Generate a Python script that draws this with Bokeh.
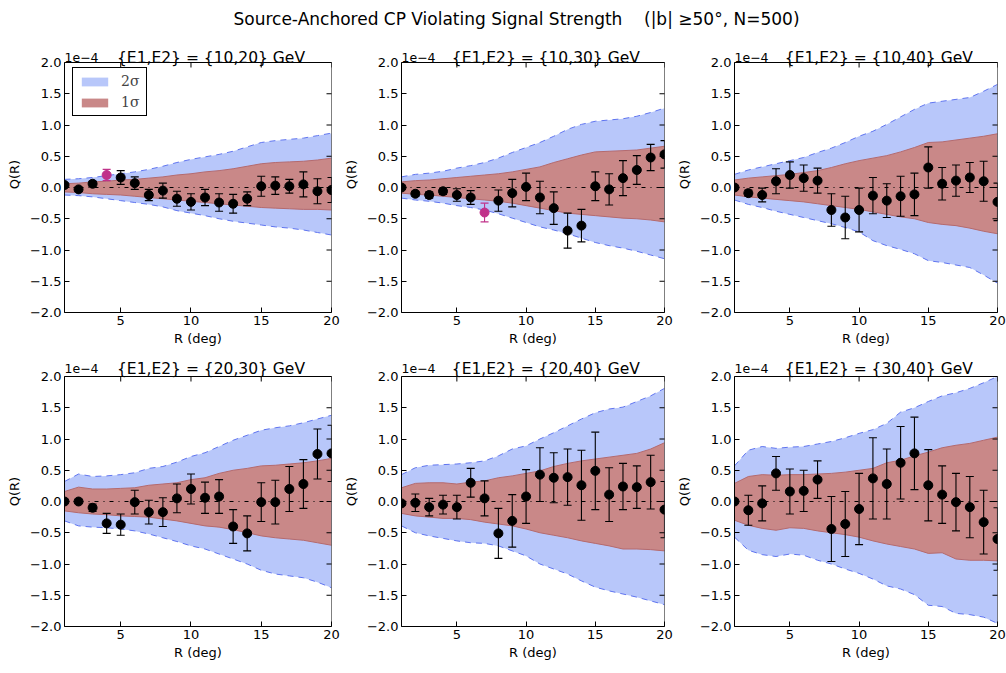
import math
from bokeh.plotting import figure
from bokeh.layouts import column, row
from bokeh.models import (Range1d, FixedTicker, Whisker, TeeHead, BoxAnnotation,
                          ColumnDataSource, Legend, LegendItem,
                          CustomJSTickFormatter, Span)
from bokeh.embed import file_html
from bokeh.resources import INLINE
from bokeh.core.properties import value

MAIN_TITLE = "Source-Anchored CP Violating Signal Strength\u00a0\u00a0\u00a0\u00a0(|b| \u226550\u00b0, N=500)"
R = list(range(1, 21))
x_ticks = [5, 10, 15, 20]
y_ticks = [-2.0, -1.5, -1.0, -0.5, 0.0, 0.5, 1.0, 1.5, 2.0]
offset_text = "1e\u22124"

titles = ["{E1,E2} = {10,20} GeV", "{E1,E2} = {10,30} GeV", "{E1,E2} = {10,40} GeV",
          "{E1,E2} = {20,30} GeV", "{E1,E2} = {20,40} GeV", "{E1,E2} = {30,40} GeV"]

# Q(R) in units of 1e-4
q_a = [0.04, -0.03, 0.06, 0.20, 0.16, 0.07, -0.12, -0.05, -0.18, -0.23, -0.16, -0.24, -0.26, -0.18, 0.02, 0.03, 0.02, 0.05, -0.06, -0.04]
err_a = [0.03, 0.03, 0.04, 0.09, 0.11, 0.10, 0.09, 0.12, 0.12, 0.13, 0.13, 0.14, 0.15, 0.11, 0.16, 0.14, 0.11, 0.20, 0.20, 0.20]
up2_a = [0.13, 0.14, 0.16, 0.19, 0.22, 0.25, 0.29, 0.34, 0.40, 0.45, 0.49, 0.53, 0.58, 0.65, 0.72, 0.75, 0.77, 0.79, 0.83, 0.87]
lo2_a = [-0.12, -0.13, -0.15, -0.18, -0.21, -0.24, -0.27, -0.31, -0.37, -0.41, -0.45, -0.50, -0.54, -0.57, -0.60, -0.63, -0.65, -0.68, -0.72, -0.76]
up1_a = [0.06, 0.07, 0.09, 0.10, 0.12, 0.13, 0.15, 0.17, 0.20, 0.22, 0.25, 0.27, 0.30, 0.34, 0.38, 0.40, 0.41, 0.42, 0.44, 0.47]
lo1_a = [-0.07, -0.08, -0.10, -0.11, -0.12, -0.14, -0.16, -0.18, -0.20, -0.22, -0.24, -0.26, -0.28, -0.30, -0.32, -0.33, -0.34, -0.35, -0.35, -0.36]
hi_a = [4]

q_b = [0.00, -0.10, -0.12, -0.06, -0.12, -0.16, -0.40, -0.21, -0.09, 0.01, -0.16, -0.33, -0.69, -0.61, 0.02, -0.03, 0.15, 0.28, 0.48, 0.53]
err_b = [0.03, 0.04, 0.05, 0.05, 0.10, 0.11, 0.15, 0.17, 0.22, 0.22, 0.26, 0.26, 0.28, 0.26, 0.23, 0.25, 0.28, 0.23, 0.21, 0.22]
up2_b = [0.17, 0.21, 0.23, 0.26, 0.31, 0.35, 0.40, 0.47, 0.56, 0.64, 0.72, 0.82, 0.93, 1.01, 1.06, 1.08, 1.10, 1.14, 1.20, 1.27]
lo2_b = [-0.17, -0.20, -0.22, -0.25, -0.29, -0.32, -0.36, -0.42, -0.49, -0.56, -0.63, -0.68, -0.74, -0.81, -0.88, -0.93, -0.97, -1.02, -1.08, -1.14]
up1_b = [0.09, 0.11, 0.12, 0.14, 0.16, 0.18, 0.20, 0.22, 0.25, 0.29, 0.33, 0.40, 0.46, 0.52, 0.57, 0.58, 0.59, 0.60, 0.63, 0.66]
lo1_b = [-0.09, -0.11, -0.12, -0.14, -0.16, -0.18, -0.20, -0.22, -0.25, -0.29, -0.33, -0.37, -0.41, -0.43, -0.45, -0.47, -0.49, -0.50, -0.52, -0.55]
hi_b = [7]

q_c = [0.00, -0.09, -0.12, 0.10, 0.20, 0.15, 0.11, -0.36, -0.48, -0.36, -0.13, -0.21, -0.14, -0.11, 0.32, 0.06, 0.11, 0.16, 0.10, -0.23]
err_c = [0.03, 0.05, 0.11, 0.20, 0.21, 0.21, 0.20, 0.26, 0.34, 0.35, 0.29, 0.27, 0.32, 0.34, 0.33, 0.26, 0.25, 0.24, 0.32, 0.30]
up2_c = [0.21, 0.28, 0.33, 0.38, 0.43, 0.48, 0.56, 0.63, 0.72, 0.82, 0.90, 1.01, 1.13, 1.25, 1.35, 1.38, 1.41, 1.44, 1.54, 1.65]
lo2_c = [-0.20, -0.27, -0.32, -0.38, -0.43, -0.48, -0.53, -0.58, -0.64, -0.71, -0.85, -0.93, -0.99, -1.06, -1.17, -1.20, -1.24, -1.28, -1.40, -1.53]
up1_c = [0.12, 0.15, 0.17, 0.19, 0.21, 0.24, 0.27, 0.32, 0.38, 0.43, 0.47, 0.51, 0.57, 0.64, 0.72, 0.73, 0.76, 0.79, 0.82, 0.86]
lo1_c = [-0.12, -0.15, -0.17, -0.19, -0.21, -0.23, -0.26, -0.29, -0.32, -0.35, -0.39, -0.43, -0.47, -0.50, -0.56, -0.59, -0.61, -0.65, -0.70, -0.74]
hi_c = []

q_d = [0.00, 0.00, -0.10, -0.35, -0.37, -0.01, -0.17, -0.17, 0.05, 0.20, 0.06, 0.08, -0.40, -0.51, -0.01, -0.01, 0.20, 0.28, 0.76, 0.77]
err_d = [0.03, 0.03, 0.06, 0.16, 0.17, 0.19, 0.19, 0.23, 0.23, 0.24, 0.25, 0.27, 0.27, 0.28, 0.31, 0.35, 0.36, 0.39, 0.40, 0.45]
up2_d = [0.32, 0.44, 0.40, 0.41, 0.43, 0.46, 0.53, 0.56, 0.63, 0.72, 0.78, 0.88, 0.98, 1.06, 1.14, 1.18, 1.21, 1.26, 1.32, 1.38]
lo2_d = [-0.31, -0.39, -0.41, -0.42, -0.44, -0.47, -0.52, -0.58, -0.64, -0.71, -0.76, -0.84, -0.92, -1.00, -1.10, -1.16, -1.19, -1.22, -1.29, -1.38]
up1_d = [0.16, 0.23, 0.20, 0.20, 0.21, 0.22, 0.26, 0.28, 0.30, 0.35, 0.38, 0.45, 0.50, 0.53, 0.57, 0.58, 0.60, 0.62, 0.65, 0.69]
lo1_d = [-0.15, -0.18, -0.20, -0.21, -0.23, -0.24, -0.25, -0.28, -0.31, -0.35, -0.39, -0.41, -0.45, -0.50, -0.55, -0.58, -0.60, -0.62, -0.66, -0.70]
hi_d = []

q_e = [-0.03, -0.02, -0.09, -0.05, -0.09, 0.30, 0.05, -0.51, -0.31, 0.08, 0.43, 0.38, 0.39, 0.26, 0.49, 0.11, 0.24, 0.23, 0.31, -0.13]
err_e = [0.03, 0.14, 0.14, 0.15, 0.19, 0.23, 0.28, 0.40, 0.42, 0.43, 0.43, 0.40, 0.45, 0.56, 0.62, 0.43, 0.37, 0.34, 0.43, 0.45]
up2_e = [0.43, 0.54, 0.58, 0.59, 0.60, 0.62, 0.65, 0.73, 0.84, 0.89, 1.00, 1.10, 1.21, 1.32, 1.42, 1.48, 1.51, 1.60, 1.69, 1.81]
lo2_e = [-0.39, -0.50, -0.55, -0.59, -0.63, -0.66, -0.67, -0.71, -0.79, -0.87, -1.00, -1.08, -1.16, -1.27, -1.37, -1.43, -1.48, -1.53, -1.59, -1.65]
up1_e = [0.22, 0.29, 0.30, 0.30, 0.28, 0.31, 0.33, 0.38, 0.41, 0.45, 0.49, 0.56, 0.61, 0.65, 0.68, 0.71, 0.74, 0.77, 0.84, 0.94]
lo1_e = [-0.19, -0.23, -0.25, -0.27, -0.27, -0.29, -0.33, -0.36, -0.39, -0.44, -0.50, -0.54, -0.58, -0.63, -0.67, -0.71, -0.76, -0.76, -0.77, -0.79]
hi_e = []

q_f = [0.00, -0.14, -0.03, 0.45, 0.16, 0.17, 0.35, -0.44, -0.36, -0.12, 0.37, 0.28, 0.62, 0.77, 0.26, 0.11, -0.01, -0.09, -0.33, -0.60]
err_f = [0.03, 0.24, 0.28, 0.27, 0.36, 0.33, 0.30, 0.52, 0.52, 0.57, 0.65, 0.56, 0.58, 0.58, 0.57, 0.46, 0.46, 0.49, 0.51, 0.50]
up2_f = [0.57, 0.82, 0.88, 0.85, 0.87, 0.88, 0.92, 0.96, 1.02, 1.09, 1.15, 1.25, 1.43, 1.50, 1.60, 1.69, 1.74, 1.81, 1.90, 2.00]
lo2_f = [-0.57, -0.78, -0.85, -0.88, -0.84, -0.86, -0.94, -1.00, -1.08, -1.15, -1.24, -1.35, -1.40, -1.49, -1.66, -1.68, -1.79, -1.81, -1.85, -1.95]
up1_f = [0.29, 0.40, 0.43, 0.42, 0.43, 0.43, 0.44, 0.45, 0.47, 0.50, 0.53, 0.62, 0.66, 0.73, 0.79, 0.86, 0.90, 0.93, 0.98, 1.03]
lo1_f = [-0.30, -0.38, -0.43, -0.46, -0.42, -0.43, -0.47, -0.50, -0.53, -0.57, -0.63, -0.68, -0.72, -0.76, -0.83, -0.82, -0.92, -0.94, -0.94, -0.95]
hi_f = []

BLUE_FILL = "#b8c7fa"
BLUE_EDGE = "#5f74ef"
RED_FILL = "#c98888"
RED_EDGE = "#b46a6e"
MAGENTA = "#c0328a"
FONT = "DejaVu Sans"

# ---- layout (pixels) ----
PAGE_W = 1006
FRAME_W = 267
BOX_H = 250                    # height of the plotting box (-2 .. 2)
LEFTS = [64, 57, 57]           # left borders of the three columns
RIGHT = 9                      # right border (room for the "20" tick label)
TITLE_H = 30                   # strip with the main title
HEAD_TOP = 5                   # top border of the title strip
TOP_B = 6                      # top border of every panel figure
EXT = [26, 20]                 # frame extension above the box (room for panel titles)
BOTTOMS = [38, 40]
TITLE_GAP = [5, 8]             # panel-title baseline above the box top
PX = 4.0 / BOX_H               # data units per pixel on the y axis


def style_axis(ax, ticks, bounds):
    ax.ticker = FixedTicker(ticks=ticks)
    ax.bounds = bounds
    ax.major_tick_in = 5
    ax.major_tick_out = 0
    ax.minor_tick_in = 0
    ax.minor_tick_out = 0
    ax.axis_line_color = "black"
    ax.major_tick_line_color = "black"
    ax.major_label_text_font = FONT
    ax.major_label_text_font_size = "13px"
    ax.major_label_text_color = "black"
    ax.axis_label_text_font = FONT
    ax.axis_label_text_font_style = "normal"
    ax.axis_label_text_font_size = "13px"
    ax.axis_label_text_color = "black"
    ax.major_label_standoff = 3
    ax.axis_label_standoff = 3


def make_panel(rw, col, title, q, err, up2, lo2, up1, lo1, hi, legend=False):
    ext = EXT[rw]
    left = LEFTS[col]
    ytop = 2 + ext * PX
    p = figure(width=left + FRAME_W + RIGHT, height=TOP_B + BOX_H + ext + BOTTOMS[rw],
               title=None, x_range=Range1d(1, 20), y_range=Range1d(-2, ytop),
               output_backend="svg", toolbar_location=None,
               min_border_left=left, min_border_right=RIGHT,
               min_border_top=TOP_B, min_border_bottom=BOTTOMS[rw])
    p.grid.visible = False
    p.outline_line_color = None

    b2 = p.varea(x=R, y1=lo2, y2=up2, fill_color=BLUE_FILL)
    b1 = p.varea(x=R, y1=lo1, y2=up1, fill_color=RED_FILL)
    p.line(R, up1, line_color=RED_EDGE, line_width=1)
    p.line(R, lo1, line_color=RED_EDGE, line_width=1)
    p.line(R, up2, line_color=BLUE_EDGE, line_width=1, line_dash="6 5")
    p.line(R, lo2, line_color=BLUE_EDGE, line_width=1, line_dash="6 5")
    p.add_layout(Span(location=0, dimension="width", line_color="black",
                      line_width=1, line_dash="4 5 1 5"))

    norm = [i for i, r in enumerate(R) if r not in hi]
    spec = [i for i, r in enumerate(R) if r in hi]
    for idx, colr in ((norm, "black"), (spec, MAGENTA)):
        if not idx:
            continue
        src = ColumnDataSource(dict(
            x=[R[i] for i in idx], q=[q[i] for i in idx],
            lo=[q[i] - err[i] for i in idx], hi=[q[i] + err[i] for i in idx]))
        p.scatter("x", "q", source=src, size=9, fill_color=colr, line_color=colr)
        p.add_layout(Whisker(base="x", lower="lo", upper="hi", source=src,
                             dimension="height", line_color=colr, line_width=1.1,
                             level="annotation",
                             upper_head=TeeHead(size=8, line_color=colr, line_width=1.1),
                             lower_head=TeeHead(size=8, line_color=colr, line_width=1.1)))

    # plotting box
    p.add_layout(BoxAnnotation(left=1, right=20, bottom=-2, top=2, fill_alpha=0,
                               line_color="black", line_width=1, line_alpha=1,
                               level="annotation"))
    # inward ticks on the top and right edges of the box (matplotlib classic look)
    p.segment(x0=x_ticks, y0=[2] * len(x_ticks), x1=x_ticks,
              y1=[2 - 5 * PX] * len(x_ticks), line_color="black", line_width=1)
    p.scatter(x=[R[-1]] * len(y_ticks), y=y_ticks, marker="dash", size=10,
              line_color="black", line_width=1)

    style_axis(p.xaxis[0], x_ticks, (1, 20))
    style_axis(p.yaxis[0], y_ticks, (-2, 2))
    p.xaxis[0].axis_label = "R (deg)"
    p.yaxis[0].axis_label = "Q(R)"
    p.yaxis[0].axis_label_standoff = 5
    p.yaxis[0].formatter = CustomJSTickFormatter(
        code="return tick.toFixed(1).replace('-', '\u2212');")

    # offset text and panel title, placed above the box
    ty = 2 + TITLE_GAP[rw] * PX
    xpx = 19.0 / FRAME_W
    p.text(x=[1], y=[ty], text=[offset_text], text_align="left",
           text_baseline="alphabetic", text_font=value(FONT),
           text_font_size="12.5px", text_color="black")
    p.text(x=[10.5 + 13 * xpx], y=[ty], text=[title], text_align="center",
           text_baseline="alphabetic", text_font=value(FONT),
           text_font_size="15.5px", text_color="black")

    if legend:
        lg = Legend(items=[LegendItem(label="2\u03c3", renderers=[b2]),
                           LegendItem(label="1\u03c3", renderers=[b1])],
                    location=(8, 196), padding=5, spacing=5,
                    glyph_width=33, glyph_height=11, label_height=14,
                    label_standoff=10, label_text_font="DejaVu Serif",
                    label_text_font_size="14px", border_line_color="black",
                    border_line_width=1, border_line_alpha=1,
                    background_fill_alpha=1)
        p.add_layout(lg)
    return p


# title strip: its y coordinates are page pixels (frame spans HEAD_TOP .. TITLE_H)
head = figure(width=PAGE_W, height=TITLE_H, title=None,
              x_range=Range1d(0, PAGE_W), y_range=Range1d(TITLE_H, HEAD_TOP),
              output_backend="svg", toolbar_location=None,
              x_axis_location=None, y_axis_location=None,
              min_border_top=HEAD_TOP, min_border_bottom=0,
              min_border_left=0, min_border_right=0)
head.grid.visible = False
head.outline_line_color = None
head.text(x=[516], y=[18.5], text=[MAIN_TITLE], text_align="center",
          text_baseline="alphabetic", text_font=value(FONT),
          text_font_size="17px", text_color="black")

pa = make_panel(0, 0, titles[0], q_a, err_a, up2_a, lo2_a, up1_a, lo1_a, hi_a, legend=True)
pb = make_panel(0, 1, titles[1], q_b, err_b, up2_b, lo2_b, up1_b, lo1_b, hi_b)
pc = make_panel(0, 2, titles[2], q_c, err_c, up2_c, lo2_c, up1_c, lo1_c, hi_c)
pd_ = make_panel(1, 0, titles[3], q_d, err_d, up2_d, lo2_d, up1_d, lo1_d, hi_d)
pe = make_panel(1, 1, titles[4], q_e, err_e, up2_e, lo2_e, up1_e, lo1_e, hi_e)
pf = make_panel(1, 2, titles[5], q_f, err_f, up2_f, lo2_f, up1_f, lo1_f, hi_f)

layout = column(head, row(pa, pb, pc), row(pd_, pe, pf))
open("out.html", "w").write(file_html(layout, INLINE))
